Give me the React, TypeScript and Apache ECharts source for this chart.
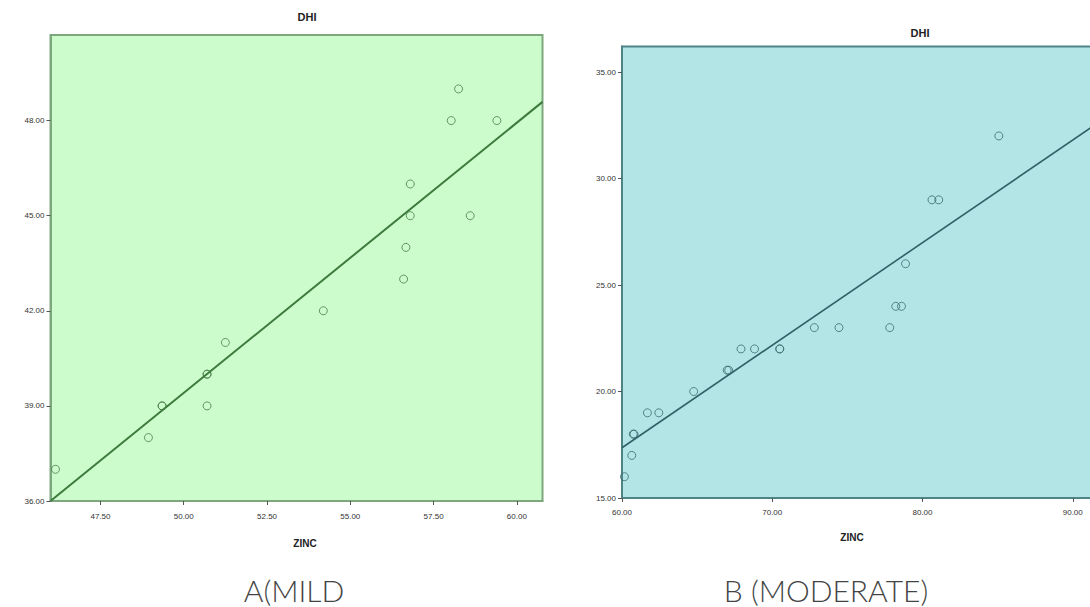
import React, { useEffect, useRef } from "react";
import * as echarts from "echarts";

// Panel A (mild)
const mildZinc = [58.25, 58.03, 59.4, 56.8, 56.8, 58.6, 56.67, 56.6, 54.19, 51.25, 50.7, 50.7, 49.35, 49.35, 50.7, 48.94, 46.15];
const mildDhi = [49, 48, 48, 46, 45, 45, 44, 43, 42, 41, 40, 40, 39, 39, 39, 38, 37];
const mildFit = [[46, 36.0], [60.77, 48.59]];
const mildXTicks = [47.5, 50, 52.5, 55, 57.5, 60];
const mildYTicks = [36, 39, 42, 45, 48];

// Panel B (moderate)
const modZinc = [85.08, 80.63, 81.08, 78.87, 78.22, 78.6, 72.8, 74.44, 77.82, 67.92, 68.82, 70.5, 70.5, 67.0, 67.1, 64.77, 61.69, 62.45, 60.75, 60.8, 60.65, 60.16];
const modDhi = [32, 29, 29, 26, 24, 24, 23, 23, 23, 22, 22, 22, 22, 21, 21, 20, 19, 19, 18, 18, 17, 16];
const modFit = [[60, 17.36], [99, 36.14]];
const modXTicks = [60, 70, 80, 90];
const modYTicks = [15, 20, 25, 30, 35];

const captions = ["A(MILD", "B (MODERATE)"];
const panelTitle = "DHI";
const xName = "ZINC";

export default function App() {
  const ref = useRef<HTMLDivElement>(null);
  useEffect(() => {
    if (!ref.current) return;
    const chart = echarts.init(ref.current, undefined, { renderer: "svg" });
    const lbl = { fontSize: 8, color: "#333", fontFamily: "Liberation Sans" };
    const fmt = (v: number) => v.toFixed(2);
    const mkX = (gi: number, min: number, max: number, ticks: number[], col: string, margin: number) => ({
      type: "value", gridIndex: gi, min, max,
      axisLine: { show: true, lineStyle: { color: col, width: 2 } },
      axisTick: { show: true, length: 4, customValues: ticks, lineStyle: { color: "#555" } },
      axisLabel: { ...lbl, customValues: ticks, formatter: fmt, margin },
      splitLine: { show: false },
    });
    const mkY = (gi: number, min: number, max: number, ticks: number[], col: string) => ({
      type: "value", gridIndex: gi, min, max,
      axisLine: { show: true, lineStyle: { color: col, width: 2 } },
      axisTick: { show: true, length: 4, customValues: ticks, lineStyle: { color: "#555" } },
      axisLabel: { ...lbl, customValues: ticks, formatter: fmt, margin: 6 },
      splitLine: { show: false },
    });
    chart.setOption({
      animation: false,
      grid: [
        { left: 50.5, top: 35, width: 492, height: 466, show: true, backgroundColor: "#ccfccc", borderColor: "#7ea77e", borderWidth: 2 },
        { left: 622, top: 46.5, width: 586, height: 451.5, show: true, backgroundColor: "#b4e5e6", borderColor: "#4f8487", borderWidth: 2 },
      ],
      xAxis: [
        mkX(0, 46, 60.77, mildXTicks, "#7ea77e", 11),
        mkX(1, 60, 99, modXTicks, "#4f8487", 10),
      ],
      yAxis: [
        mkY(0, 36, 50.7, mildYTicks, "#7ea77e"),
        mkY(1, 15, 36.2, modYTicks, "#4f8487"),
      ],
      series: [
        {
          type: "scatter", xAxisIndex: 0, yAxisIndex: 0,
          data: mildZinc.map((x, i) => [x, mildDhi[i]]),
          symbol: "circle", symbolSize: 8,
          itemStyle: { color: "rgba(0,0,0,0)", borderColor: "#4a7a4a", borderWidth: 1 },
        },
        {
          type: "line", xAxisIndex: 0, yAxisIndex: 0, data: mildFit, symbol: "none",
          lineStyle: { color: "#3e7a3e", width: 2 },
        },
        {
          type: "scatter", xAxisIndex: 1, yAxisIndex: 1,
          data: modZinc.map((x, i) => [x, modDhi[i]]),
          symbol: "circle", symbolSize: 8,
          itemStyle: { color: "rgba(0,0,0,0)", borderColor: "#3a6a6d", borderWidth: 1 },
        },
        {
          type: "line", xAxisIndex: 1, yAxisIndex: 1, data: modFit, symbol: "none",
          lineStyle: { color: "#2e6366", width: 1.6 },
        },
      ],
      graphic: [
        { type: "text", x: 307, y: 17, style: { text: panelTitle, fontSize: 11, fontWeight: "bold", fill: "#222", fontFamily: "Liberation Sans", textAlign: "center", textVerticalAlign: "middle" } },
        { type: "text", x: 920, y: 33, style: { text: panelTitle, fontSize: 11, fontWeight: "bold", fill: "#222", fontFamily: "Liberation Sans", textAlign: "center", textVerticalAlign: "middle" } },
        { type: "text", x: 305, y: 543, style: { text: xName, fontSize: 10, fontWeight: "bold", fill: "#222", fontFamily: "Liberation Sans", textAlign: "center", textVerticalAlign: "middle" } },
        { type: "text", x: 852, y: 537, style: { text: xName, fontSize: 10, fontWeight: "bold", fill: "#222", fontFamily: "Liberation Sans", textAlign: "center", textVerticalAlign: "middle" } },
        { type: "text", x: 294, y: 590, style: { text: captions[0], fontSize: 30, fontWeight: 300, fill: "#444", fontFamily: "Lato", textAlign: "center", textVerticalAlign: "middle" } },
        { type: "text", x: 826, y: 590, style: { text: captions[1], fontSize: 30, fontWeight: 300, fill: "#444", fontFamily: "Lato", textAlign: "center", textVerticalAlign: "middle" } },
      ],
    });
    return () => chart.dispose();
  }, []);
  return (
    <div style={{ position: "absolute", left: 0, top: 0, width: 1090, height: 607, overflow: "hidden", background: "#fff" }}>
      <div ref={ref} style={{ width: 1240, height: 607 }} />
    </div>
  );
}
